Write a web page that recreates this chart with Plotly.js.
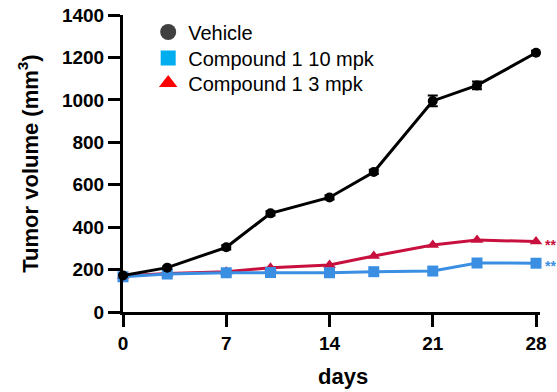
<!DOCTYPE html>
<html>
<head>
<meta charset="utf-8">
<script src="https://cdn.plot.ly/plotly-3.0.1.min.js"></script>
<style>html,body{margin:0;padding:0;background:#fff;}#chart{width:557px;height:392px;}</style>
</head>
<body>
<div id="chart"></div>
<script>
const days = [0, 3, 7, 10, 14, 17, 21, 24, 28];
const vehicle = [172, 209, 305, 465, 540, 660, 995, 1068, 1222];
const vehicleErr = [4, 6, 10, 10, 10, 10, 25, 18, 10];
const cmp10 = [166, 179, 185, 186, 185, 190, 193, 231, 230];
const cmp3 = [170, 182, 190, 209, 222, 264, 316, 339, 332];
const seriesNames = ['Vehicle', 'Compound 1 10 mpk', 'Compound 1 3 mpk'];
const xTicks = [0, 7, 14, 21, 28];
const yTicks = [0, 200, 400, 600, 800, 1000, 1200, 1400];

const FONT = 'Liberation Sans, Arial, sans-serif';
const cBlack = '#000000', cBlue = '#3b8fe3', cRed = '#c8103e';

const traces = [
  {x: days, y: cmp3, mode: 'lines+markers', showlegend: false, cliponaxis: false,
   line: {color: cRed, width: 3}, marker: {symbol: 'triangle-up', size: 11, color: cRed}},
  {x: days, y: cmp10, mode: 'lines+markers', showlegend: false, cliponaxis: false,
   line: {color: cBlue, width: 3}, marker: {symbol: 'square', size: 11, color: cBlue}},
  {x: days, y: vehicle, mode: 'lines+markers', showlegend: false, cliponaxis: false,
   error_y: {type: 'data', array: vehicleErr, color: cBlack, thickness: 2, width: 5},
   line: {color: cBlack, width: 3}, marker: {symbol: 'circle', size: 10, color: cBlack}},
  {x: [null], y: [null], mode: 'markers', name: seriesNames[0], legend: 'legend',
   marker: {symbol: 'circle', size: 17, color: '#404040'}},
  {x: [null], y: [null], mode: 'markers', name: seriesNames[1], legend: 'legend2',
   marker: {symbol: 'square', size: 15, color: '#00aef0'}},
  {x: [null], y: [null], mode: 'markers', name: seriesNames[2], legend: 'legend3',
   marker: {symbol: 'triangle-up', size: 16, color: '#ff0000'}}
];

function leg(y) {
  return {x: 0.0604, y: y, xanchor: 'left', yanchor: 'middle',
          font: {family: FONT, size: 20, color: '#000'}, bgcolor: 'rgba(0,0,0,0)'};
}

const layout = {
  width: 557, height: 392,
  margin: {l: 123, r: 17, t: 15, b: 80},
  paper_bgcolor: '#fff', plot_bgcolor: '#fff',
  showlegend: true,
  legend: leg(0.9428),
  legend2: leg(0.8552),
  legend3: leg(0.771),
  xaxis: {range: [0, 28.27], tickvals: xTicks, ticktext: xTicks.map(String),
          showgrid: false, zeroline: false, showline: true, linecolor: '#000', linewidth: 3,
          ticks: 'outside', ticklen: 12, tickwidth: 3, tickcolor: '#000',
          tickfont: {family: FONT, size: 19, color: '#000', weight: 'bold'}},
  yaxis: {range: [0, 1400], tickvals: yTicks, ticktext: yTicks.map(String),
          showgrid: false, zeroline: false, showline: true, linecolor: '#000', linewidth: 3,
          ticks: 'outside', ticklen: 12, tickwidth: 3, tickcolor: '#000',
          tickfont: {family: FONT, size: 19, color: '#000', weight: 'bold'},
          title: {text: 'Tumor volume (mm<sup>3</sup>)', font: {family: FONT, size: 22, color: '#000', weight: 'bold'}, standoff: 18}},
  annotations: [
    {xref: 'paper', yref: 'paper', x: 0.5276, y: -0.2155, xanchor: 'center', yanchor: 'middle',
     text: 'days', showarrow: false, font: {family: FONT, size: 22, color: '#000', weight: 'bold'}},
    {x: 28, y: cmp3[cmp3.length-1], text: '**', showarrow: false, xanchor: 'left', xshift: 7, yshift: -3,
     font: {family: FONT, size: 14, color: cRed, weight: 'bold'}},
    {x: 28, y: cmp10[cmp10.length-1], text: '**', showarrow: false, xanchor: 'left', xshift: 7, yshift: -3,
     font: {family: FONT, size: 14, color: cBlue, weight: 'bold'}}
  ]
};

Plotly.newPlot('chart', traces, layout, {staticPlot: true, displayModeBar: false});
</script>
</body>
</html>
